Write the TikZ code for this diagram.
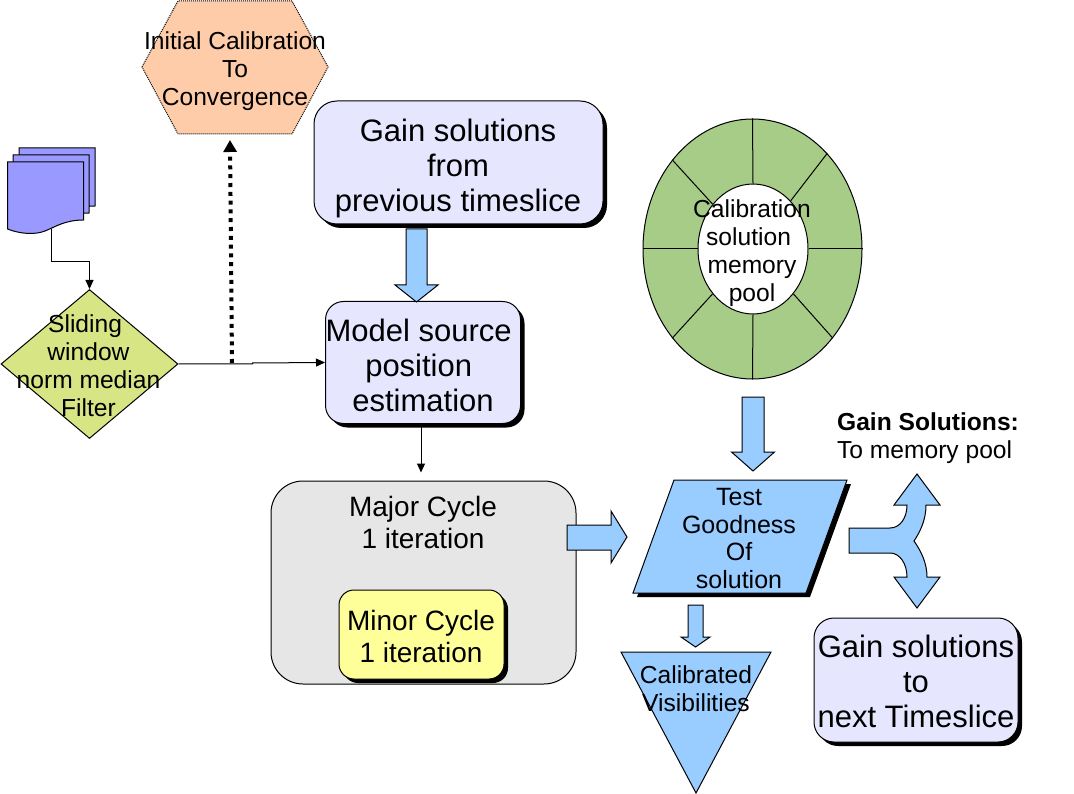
\documentclass[tikz,border=0pt]{standalone}
\usepackage{fontspec}
\setmainfont{Liberation Sans}
\usetikzlibrary{arrows.meta,shapes.geometric,shadows}
\definecolor{gainfill}{HTML}{E6E6FF}
\definecolor{flowblue}{HTML}{99CCFF}
\definecolor{sheetblue}{HTML}{9999FF}
\definecolor{peach}{HTML}{FFCCAA}
\definecolor{filtergreen}{HTML}{D7E585}
\definecolor{poolgreen}{HTML}{A6CC88}
\definecolor{majorgrey}{HTML}{E6E6E6}
\definecolor{minoryellow}{HTML}{FFFF99}
\newcommand{\sizeL}{\fontsize{31}{35}\selectfont}
\newcommand{\sizeM}{\fontsize{28}{32}\selectfont}
\newcommand{\sizeS}{\fontsize{24.6}{28}\selectfont}
\newcommand{\tailgap}{~\mbox{}}
\tikzset{
  edged/.style={draw=black,line width=1pt},
  shadowed/.style={drop shadow={shadow xshift=4pt,shadow yshift=-4pt,fill=black,opacity=1}},
  gainbox/.style={edged,shadowed,fill=gainfill,inner sep=0pt},
  label/.style={inner sep=0pt,align=center,font=\sizeS},
  biglabel/.style={inner sep=0pt,align=center,font=\sizeL},
  thinarrow/.style={line width=1pt,-{Triangle[width=8pt,length=9pt]}},
  blockshape/.style={edged,fill=flowblue,line join=miter}
}
\begin{document}
\begin{tikzpicture}[x=1pt,y=-1pt]
  \useasboundingbox (0,0) rectangle (1074,794);
  % stack of input sheets
  \foreach \dx/\dy in {11.5/-14,5.5/-7,0/0}{
    \begin{scope}[shift={(\dx,\dy)}]
      \draw[edged,fill=sheetblue] (7.5,162) -- (83.5,162) -- (83.5,220)
        .. controls (65,220) and (55,227) .. (45,231)
        .. controls (35,235) and (20,234) .. (7.5,229) -- cycle;
    \end{scope}
  }
  \coordinate (sheets) at (51,229);
  % sliding filter
  \node[diamond,edged,fill=filtergreen,minimum width=177pt,minimum height=149pt,inner sep=0pt] (filter) at (89.5,364) {};
  \node[label] (filtertext) at (88.5,366) {Sliding\tailgap\\window\\norm median\\Filter};
  \draw[thinarrow] (sheets) -- ++(0,33) -| (filter.north);
  % initial calibration
  \draw[fill=peach,line width=1pt,dash pattern=on 1pt off 1pt] (142,67) -- (178,1) -- (292,1) -- (328,67) -- (292,134) -- (178,134) -- cycle;
  \node[label] (initial) at (235,71) {Initial Calibration\\To\\Convergence};
  % gain boxes and model
  \node[gainbox,rounded corners=23pt,minimum width=289pt,minimum height=123pt] (prevgain) at (458.5,162.5) {};
  \node[biglabel] (prevtext) at (458,168) {Gain solutions\\from\\previous timeslice};
  \node[gainbox,rounded corners=18pt,minimum width=195pt,minimum height=122pt] (model) at (423,362.5) {};
  \node[biglabel] (modeltext) at (423,365.5) {Model source\tailgap\\position\tailgap\\estimation};
  \node[gainbox,rounded corners=20pt,minimum width=204pt,minimum height=124pt] (nextgain) at (916,680) {};
  \node[biglabel] (nexttext) at (916,681) {Gain solutions\\to\\next Timeslice};
  \draw[thinarrow] (filter.east) -- ++(74,0) -- ++(0,-1) -- (model.west);
  \coordinate (dotstart) at (232,363);
  \coordinate (dotend) at (230,140);
  \draw[line width=4pt,dash pattern=on 4pt off 4.8pt,-{Triangle[width=13pt,length=12pt]}] (dotstart) -- (dotend);
  % major and minor cycle
  \node[edged,fill=majorgrey,rounded corners=32pt,minimum width=305pt,minimum height=203pt] (major) at (423.5,582.5) {};
  \node[label,font=\sizeM] (majortext) at (423,522) {Major Cycle\\1 iteration};
  \node[edged,shadowed,fill=minoryellow,rounded corners=15pt,minimum width=165pt,minimum height=89pt,inner sep=0pt] (minor) at (421.5,634.5) {};
  \node[label,font=\sizeM] (minortext) at (421,636) {Minor Cycle\\1 iteration};
  \draw[thinarrow,shorten >=8pt] ([xshift=-2pt]model.south) -- ([xshift=-2pt]model.south |- major.north);
  % memory pool
  \node[ellipse,edged,fill=poolgreen,minimum width=219pt,minimum height=260pt] (poolouter) at (752.5,249) {};
  \node[ellipse,edged,fill=white,minimum width=110pt,minimum height=130pt] (poolinner) at (753,249) {};
  \foreach \ang in {0,52,90,132,180,228,270,312}{
    \draw[line width=1pt] (poolinner.\ang) -- (poolouter.\ang);
  }
  \node[label] (pooltext) at (752,253) {Calibration\\solution\tailgap\\memory\\pool};
  % goodness test
  \fill[black] (678,484) -- (851,484) -- (810,597) -- (637,597) -- cycle;
  \draw[edged,fill=flowblue] (674,480) -- (847,480) -- (806,593) -- (633,593) -- cycle;
  \node[label,font=\fontsize{25}{27.5}\selectfont] (goodness) at (739,538.5) {Test\\Goodness\\Of\\solution};
  % calibrated output
  \draw[edged,fill=flowblue] (621,652) -- (771,652) -- (696,793) -- cycle;
  \node[label] (calibrated) at (696,689) {Calibrated\\Visibilities};
  % block arrows pointing down
  \foreach \cx/\stop/\neck/\tip/\shaft/\head in {416.5/229/285/302/10.5/21.5,753/397/452/471/11/21.5,695.5/605/637/647/7.5/14.5}{
    \draw[blockshape] (\cx-\shaft,\stop) -- (\cx+\shaft,\stop) -- (\cx+\shaft,\neck) -- (\cx+\head,\neck)
      -- (\cx,\tip) -- (\cx-\head,\neck) -- (\cx-\shaft,\neck) -- cycle;
  }
  % block arrow to the test
  \draw[blockshape] (567,525) -- (611,525) -- (611,511) -- (627,537) -- (611,563) -- (611,550) -- (567,550) -- cycle;
  % forked arrow
  \draw[blockshape] (849,528) -- (890,528) .. controls (900,528) and (907,518) .. (907,505) -- (894,505) -- (917,474) -- (940,505) -- (926,505)
    .. controls (926,520) and (920,532) .. (914,541)
    .. controls (921,551) and (927,563) .. (927,577) -- (940,577) -- (917,608) -- (894,577) -- (907,577)
    .. controls (907,564) and (900,553) .. (890,553) -- (849,553) -- cycle;
  \node[inner sep=0pt,align=left,font=\sizeS] (memorylabel) at (928,438.5) {\textbf{Gain Solutions:}\\To memory pool};
\end{tikzpicture}
\end{document}
